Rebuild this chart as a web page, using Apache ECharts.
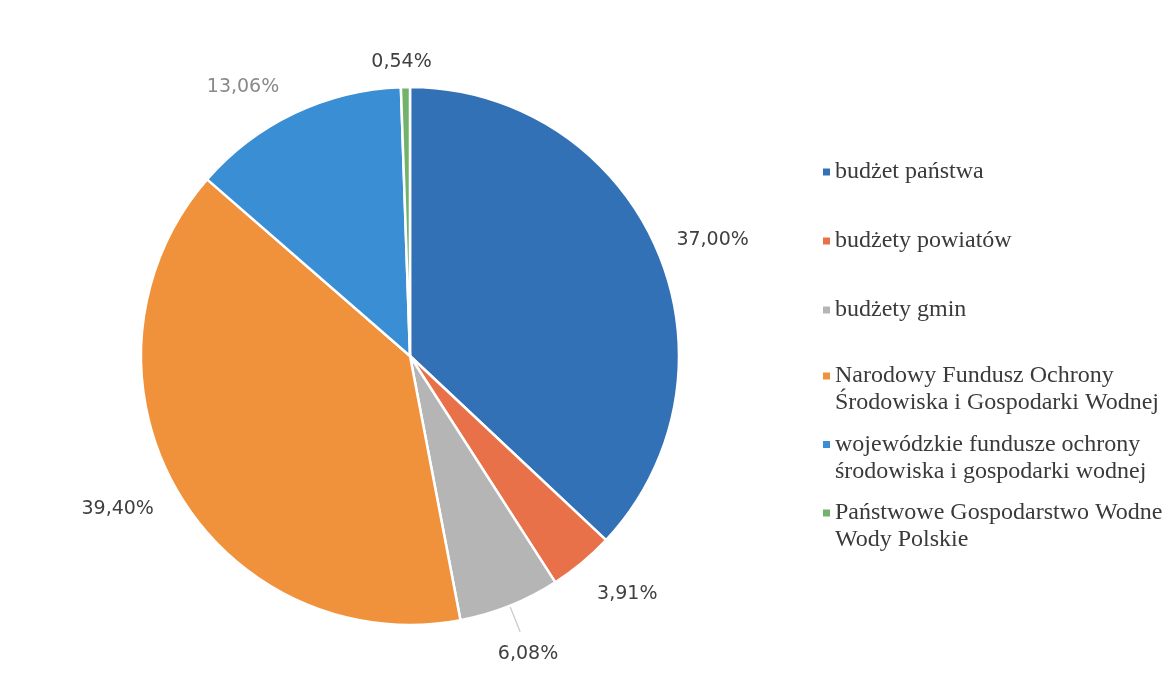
<!DOCTYPE html>
<html>
<head>
<meta charset="utf-8">
<script src="https://cdn.jsdelivr.net/npm/echarts@6/dist/echarts.min.js"></script>
<style>
  html, body { margin: 0; padding: 0; background: #ffffff; }
  #chart { width: 1176px; height: 690px; }
</style>
</head>
<body>
<div id="chart"></div>
<script>
// Sources of financing – percentage shares
const categories = [
  'budżet państwa',
  'budżety powiatów',
  'budżety gmin',
  'Narodowy Fundusz Ochrony\nŚrodowiska i Gospodarki Wodnej',
  'wojewódzkie fundusze ochrony\nśrodowiska i gospodarki wodnej',
  'Państwowe Gospodarstwo Wodne\nWody Polskie'
];
const shares = [37.00, 3.91, 6.08, 39.40, 13.06, 0.54];
const sliceColors = ['#3371b6', '#e8714a', '#b5b5b5', '#f0913b', '#3a8ed3', '#72b36c'];
// nudges of each percentage label away from its default spot
const labelNudges = [[8, 12], [12, -9], [-1, 0], [-14, -7], [-29, 21], [-3, 27]];

const CX = 410, CY = 356, R = 269;

function pct(v) {
  return v.toFixed(2).replace('.', ',') + '%';
}

const pieData = categories.map((name, i) => {
  const item = {
    name: name,
    value: shares[i],
    itemStyle: { color: sliceColors[i] }
  };
  if (i === 2) {
    // short leader line towards the "budżety gmin" label
    item.label = { show: true, position: 'outside', formatter: ' ', fontSize: 1 };
    item.labelLine = { show: true, length: 28, length2: 0, lineStyle: { color: '#c8c8c8', width: 1.2 } };
  }
  return item;
});

// invisible ring just outside the pie carrying the percentage labels
const labelData = categories.map((name, i) => {
  const item = { name: name, value: shares[i], label: { offset: labelNudges[i] } };
  if (i === 4) item.label.color = '#8a8a8a';
  return item;
});

const legendText = {
  fontFamily: 'Liberation Serif',
  fontSize: 24,
  lineHeight: 27,
  color: '#3a3a3a'
};

const chart = echarts.init(document.getElementById('chart'), null, { renderer: 'canvas' });

chart.setOption({
  backgroundColor: '#ffffff',
  animation: false,
  legend: [
    {
      data: categories.slice(0, 3),
      orient: 'vertical',
      left: 823,
      top: 158.5,
      padding: 0,
      itemGap: 42,
      itemWidth: 7,
      itemHeight: 7,
      icon: 'rect',
      selectedMode: false,
      itemStyle: { borderWidth: 0 },
      textStyle: legendText
    },
    {
      data: categories.slice(3),
      orient: 'vertical',
      left: 823,
      top: 362.5,
      padding: 0,
      itemGap: 14.5,
      itemWidth: 7,
      itemHeight: 54,
      // square sits beside the first text line
      icon: 'path://M0,0M0,10h7v7h-7zM7,54',
      selectedMode: false,
      itemStyle: { borderWidth: 0 },
      textStyle: legendText
    }
  ],
  series: [
    {
      name: 'udział',
      type: 'pie',
      center: [CX, CY],
      radius: [0, R],
      startAngle: 90,
      clockwise: true,
      avoidLabelOverlap: false,
      silent: true,
      itemStyle: { borderColor: '#ffffff', borderWidth: 2.5 },
      label: { show: false },
      labelLine: { show: false },
      data: pieData
    },
    {
      name: 'etykiety',
      type: 'pie',
      center: [CX, CY],
      radius: [R, R + 98],
      startAngle: 90,
      clockwise: true,
      avoidLabelOverlap: false,
      silent: true,
      itemStyle: { color: 'rgba(0,0,0,0)', borderWidth: 0 },
      label: {
        show: true,
        position: 'inside',
        formatter: p => pct(p.value),
        fontFamily: 'DejaVu Sans',
        fontSize: 19,
        color: '#404040'
      },
      labelLine: { show: false },
      data: labelData
    }
  ]
});
</script>
</body>
</html>
